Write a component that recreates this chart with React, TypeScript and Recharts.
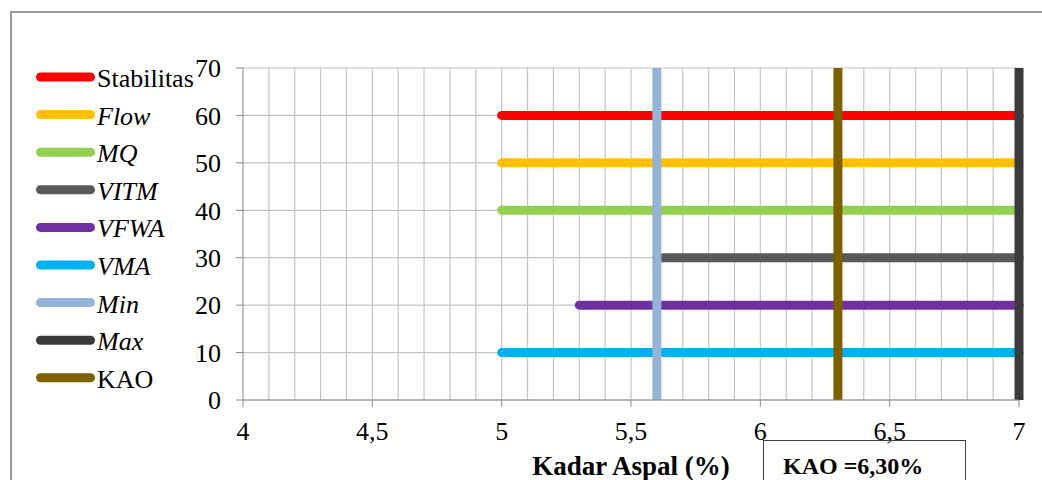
import React from 'react';
import { LineChart, Line, XAxis, YAxis, CartesianGrid, ReferenceLine, Legend } from 'recharts';

// ---- data ----
const xTicks = [4, 4.5, 5, 5.5, 6, 6.5, 7];
const yTicks = [0, 10, 20, 30, 40, 50, 60, 70];
const minorGridX = [4.1, 4.2, 4.3, 4.4, 4.5, 4.6, 4.7, 4.8, 4.9, 5, 5.1, 5.2, 5.3, 5.4, 5.5, 5.6, 5.7, 5.8, 5.9, 6, 6.1, 6.2, 6.3, 6.4, 6.5, 6.6, 6.7, 6.8, 6.9];
const seriesNames = ['Stabilitas', 'Flow', 'MQ', 'VITM', 'VFWA', 'VMA', 'Min', 'Max', 'KAO'];

const stabilitas = [{ x: 5, y: 60 }, { x: 7, y: 60 }];
const flow = [{ x: 5, y: 50 }, { x: 7, y: 50 }];
const mq = [{ x: 5, y: 40 }, { x: 7, y: 40 }];
const vitm = [{ x: 5.6, y: 30 }, { x: 7, y: 30 }];
const vfwa = [{ x: 5.3, y: 20 }, { x: 7, y: 20 }];
const vma = [{ x: 5, y: 10 }, { x: 7, y: 10 }];
const minLine = [{ x: 5.6, y: 0 }, { x: 5.6, y: 70 }];
const maxLine = [{ x: 7, y: 0 }, { x: 7, y: 70 }];
const kaoLine = [{ x: 6.3, y: 0 }, { x: 6.3, y: 70 }];

const kaoText = 'KAO =6,30%';
const xTitle = 'Kadar Aspal (%)';

// ---- styles ----
const FONT = '"Liberation Serif", "Times New Roman", serif';
const italicNames: Record<string, boolean> = { Flow: true, MQ: true, VITM: true, VFWA: true, VMA: true, Min: true, Max: true };
const GRID = '#C4C4C4';
const AXIS = '#8A8A8A';

const fmt = (v: number) => String(v).replace('.', ',');
const orderOf = (item: any) => seriesNames.indexOf(String(item && item.value));

const LegendContent = (props: any) => {
  const payload = [...(props.payload || [])].sort((a: any, b: any) => orderOf(a) - orderOf(b));
  return (
    <svg width={240} height={420} style={{ display: 'block' }}>
      {payload.map((p: any, i: number) => {
        const cy = 77 + i * 37.6;
        const name = String(p.value);
        return (
          <g key={name}>
            <line x1={40.5} x2={90.5} y1={cy} y2={cy} stroke={p.color} strokeWidth={9} strokeLinecap="round" />
            <text x={97} y={cy + 10} fontFamily={FONT} fontSize={26} fill="#000" fontStyle={italicNames[name] ? 'italic' : 'normal'}>
              {name}
            </text>
          </g>
        );
      })}
    </svg>
  );
};

export default function App() {
  const hLine = (name: string, data: any[], color: string) => (
    <Line
      key={name}
      name={name}
      data={data}
      dataKey="y"
      stroke={color}
      strokeWidth={9}
      strokeLinecap="round"
      dot={false}
      activeDot={false}
      isAnimationActive={false}
      legendType="line"
    />
  );
  const vLine = (name: string, data: any[], color: string) => (
    <Line
      key={name}
      name={name}
      data={data}
      dataKey="y"
      stroke={color}
      strokeWidth={9}
      strokeLinecap="butt"
      dot={false}
      activeDot={false}
      isAnimationActive={false}
      legendType="line"
    />
  );

  return (
    <div style={{ position: 'absolute', left: 0, top: 0, width: 1042, height: 480, overflow: 'hidden', background: '#fff' }}>
      <div style={{ position: 'absolute', left: 10, top: 11, width: 1100, height: 600, border: '2px solid #9A9A9A', boxSizing: 'border-box' }} />
      <div style={{ position: 'absolute', left: 0, top: 0 }}>
        <LineChart width={1042} height={480} margin={{ top: 68, right: 23, bottom: 0, left: 183 }}>
          <CartesianGrid vertical={false} stroke={GRID} strokeWidth={1.2} />
          {minorGridX.map((v) => (
            <ReferenceLine key={v} x={v} stroke={GRID} strokeWidth={1.2} ifOverflow="extendDomain" />
          ))}
          <XAxis
            type="number"
            dataKey="x"
            domain={[4, 7]}
            ticks={xTicks}
            tickFormatter={fmt}
            height={80}
            tickSize={7}
            tickMargin={15}
            stroke={AXIS}
            tick={{ fill: '#000', fontFamily: FONT, fontSize: 26 }}
            tickLine={{ stroke: AXIS }}
            axisLine={{ stroke: AXIS }}
            label={{ value: xTitle, position: 'insideBottom', offset: 5, fill: '#000', fontFamily: FONT, fontSize: 27, fontWeight: 'bold' }}
          />
          <YAxis
            type="number"
            domain={[0, 70]}
            ticks={yTicks}
            width={60}
            tickSize={7}
            tickMargin={15}
            stroke={AXIS}
            tick={{ fill: '#000', fontFamily: FONT, fontSize: 26 }}
            tickLine={{ stroke: AXIS }}
            axisLine={{ stroke: AXIS }}
          />
          <Legend
            layout="vertical"
            align="center"
            verticalAlign="middle"
            itemSorter={orderOf as any}
            content={LegendContent}
            wrapperStyle={{ left: 0, top: 0, width: 240, height: 420 }}
          />
          {hLine('Stabilitas', stabilitas, '#FF0000')}
          {hLine('Flow', flow, '#FFC000')}
          {hLine('MQ', mq, '#92D050')}
          {hLine('VITM', vitm, '#595959')}
          {hLine('VFWA', vfwa, '#7030A0')}
          {hLine('VMA', vma, '#00B0F0')}
          {vLine('Min', minLine, '#95B3D7')}
          {vLine('Max', maxLine, '#3A3A3A')}
          {vLine('KAO', kaoLine, '#7F6000')}
        </LineChart>
      </div>
      <div
        style={{
          position: 'absolute',
          left: 763,
          top: 440,
          width: 203,
          height: 80,
          border: '1.5px solid #404040',
          boxSizing: 'border-box',
          fontFamily: FONT,
          fontWeight: 'bold',
          fontSize: 24,
          color: '#000',
        }}
      >
        <div style={{ position: 'absolute', left: 19, top: 12, whiteSpace: 'nowrap', lineHeight: '26px' }}>{kaoText}</div>
      </div>
    </div>
  );
}
